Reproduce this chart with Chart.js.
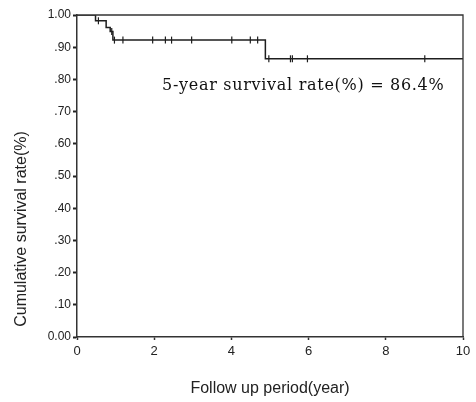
<!DOCTYPE html>
<html>
<head>
<meta charset="utf-8">
<script src="https://cdn.jsdelivr.net/npm/chart.js@4/dist/chart.umd.min.js"></script>
<style>
  html, body { margin: 0; padding: 0; background: #fff; }
  #wrap { width: 476px; height: 402px; }
</style>
</head>
<body>
<div id="wrap"><canvas id="c" width="476" height="402"></canvas></div>
<script>
// Kaplan-Meier step curve (time in years, cumulative survival)
const stepTimes    = [0, 0.48, 0.755, 0.86, 0.93, 4.88, 10];
const stepSurvival = [1.0, 0.982, 0.961, 0.949, 0.922, 0.864, 0.864];

// Censored observations
const censorTimes    = [0.555, 0.90, 0.97, 1.19, 1.96, 2.29, 2.45, 2.97, 4.01, 4.49, 4.68, 4.97, 5.53, 5.58, 5.97, 9.01];
const censorSurvival = [0.982, 0.949, 0.922, 0.922, 0.922, 0.922, 0.922, 0.922, 0.922, 0.922, 0.922, 0.864, 0.864, 0.864, 0.864, 0.864];

const xTicks = [0, 2, 4, 6, 8, 10];
const yTickLabels = ['0.00', '.10', '.20', '.30', '.40', '.50', '.60', '.70', '.80', '.90', '1.00'];

const xTitle = 'Follow up period(year)';
const yTitle = 'Cumulative survival rate(%)';
const note = '5-year survival rate(%) = 86.4%';

const ink = '#1e1e1e';

const framePlugin = {
  id: 'frame',
  afterDatasetsDraw(chart) {
    const { ctx, chartArea: a } = chart;
    ctx.save();
    ctx.strokeStyle = '#333';
    ctx.lineWidth = 1.3;
    ctx.beginPath();
    ctx.moveTo(a.left, a.top);
    ctx.lineTo(a.right, a.top);
    ctx.lineTo(a.right, a.bottom);
    ctx.stroke();
    ctx.restore();
  },
  afterDraw(chart) {
    const { ctx } = chart;
    ctx.save();
    // y-axis title
    ctx.fillStyle = '#222';
    ctx.font = '16px "Liberation Sans", Arial, sans-serif';
    ctx.textAlign = 'center';
    ctx.textBaseline = 'middle';
    ctx.translate(22, 229);
    ctx.rotate(-Math.PI / 2);
    ctx.fillText(yTitle, 0, 0);
    ctx.restore();
    // annotation
    ctx.save();
    ctx.fillStyle = '#111';
    ctx.font = '16px "DejaVu Serif", serif';
    try { ctx.letterSpacing = '0.7px'; } catch (e) {}
    ctx.textAlign = 'left';
    ctx.textBaseline = 'middle';
    ctx.fillText(note, 162, 86);
    ctx.restore();
  }
};

new Chart(document.getElementById('c'), {
  type: 'scatter',
  data: {
    datasets: [
      {
        data: stepTimes.map((t, i) => ({ x: t, y: stepSurvival[i] })),
        showLine: true,
        stepped: true,
        borderColor: ink,
        borderWidth: 1.5,
        pointRadius: 0,
        fill: false
      },
      {
        data: censorTimes.map((t, i) => ({ x: t, y: censorSurvival[i] })),
        showLine: false,
        pointStyle: 'line',
        rotation: 90,
        pointRadius: 3.5,
        pointBorderWidth: 1.2,
        pointBorderColor: ink,
        borderColor: ink
      }
    ]
  },
  options: {
    responsive: false,
    animation: false,
    layout: { padding: { left: 0, right: 13, top: 15, bottom: 0 } },
    plugins: { legend: { display: false }, tooltip: { enabled: false } },
    scales: {
      x: {
        type: 'linear',
        min: 0, max: 10,
        afterFit: s => { s.height = 65; },
        afterBuildTicks: s => { s.ticks = xTicks.map(v => ({ value: v })); },
        ticks: {
          color: '#222',
          font: { size: 13, family: '"Liberation Sans", Arial, sans-serif' },
          padding: 4,
          maxRotation: 0
        },
        grid: { drawOnChartArea: false, drawTicks: true, tickLength: 3, tickColor: '#333', tickWidth: 1.5 },
        border: { display: true, color: '#333', width: 1.5 },
        title: {
          display: true,
          text: xTitle,
          color: '#222',
          font: { size: 16, family: '"Liberation Sans", Arial, sans-serif' },
          padding: { top: 0, bottom: 4 }
        }
      },
      y: {
        type: 'linear',
        min: 0, max: 1,
        afterFit: s => { s.width = 77; },
        ticks: {
          stepSize: 0.1,
          color: '#222',
          font: { size: 12, family: '"Liberation Sans", Arial, sans-serif' },
          padding: 2,
          callback: (v) => yTickLabels[Math.round(v * 10)]
        },
        grid: { drawOnChartArea: false, drawTicks: true, tickLength: 4, tickColor: '#222', tickWidth: 2 },
        border: { display: true, color: '#333', width: 1.5 }
      }
    }
  },
  plugins: [framePlugin]
});
</script>
</body>
</html>
